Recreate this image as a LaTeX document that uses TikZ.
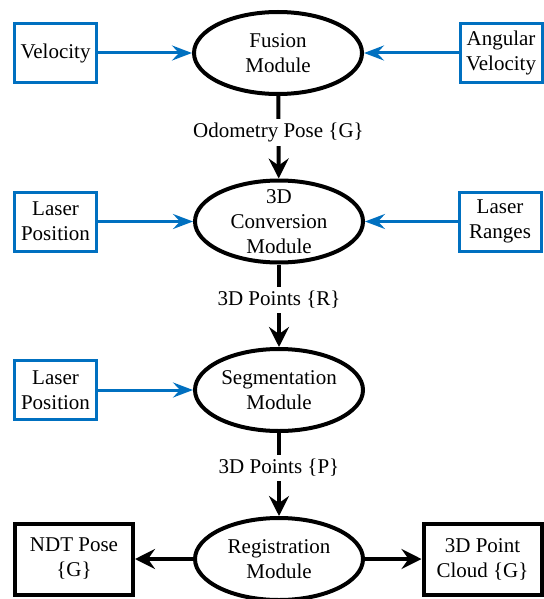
\documentclass[tikz,border=0pt]{standalone}
\usepackage{fontspec}
\setmainfont{Liberation Serif}
\newfontfamily\timesfont{Liberation Serif}
\usetikzlibrary{shapes.geometric, arrows.meta}
\definecolor{inputblue}{RGB}{0, 112, 192}

\begin{document}
\begin{tikzpicture}[x=0.5pt, y=-0.5pt,
    font=\fontsize{10.5}{12.5}\selectfont,
    module/.style={ellipse, draw, line width=2pt, minimum width=84pt, minimum height=41pt, inner sep=-6pt, align=center},
    inbox/.style={rectangle, draw=inputblue, line width=1.5pt, minimum width=41pt, minimum height=29.5pt, inner sep=1pt, align=center},
    outbox/.style={rectangle, draw, line width=2pt, minimum width=59pt, minimum height=35.5pt, inner sep=1pt, align=center},
    inarrow/.style={draw=inputblue, line width=1.5pt, -{Stealth[length=10pt, width=7.5pt, inset=3.5pt]}},
    flow/.style={draw, line width=2pt, -{Stealth[length=10pt, width=10pt, inset=3.5pt]}},
    flowlabel/.style={fill=white, inner sep=2pt}]
    \useasboundingbox (0,0) rectangle (543,599);

    % Modules
    \node[module] (fusion) at (278, 53) {Fusion\\Module};
    \node[module] (conv) at (279, 221.5) {3D\\Conversion\\Module};
    \node[module] (seg) at (279, 390) {\timesfont\fontsize{10.5}{12.5}\selectfont Segmentation\\Module};
    \node[module] (reg) at (279, 559) {Registration\\Module};

    % Sensor inputs
    \node[inbox] (vel) at (55.5, 53) {Velocity};
    \node[inbox] (angvel) at (501, 53) {Angular\\Velocity};
    \node[inbox] (laserpos) at (55.5, 221.5) {Laser\\Position};
    \node[inbox] (ranges) at (500, 221.5) {Laser\\Ranges};
    \node[inbox] (laserpostwo) at (55.5, 390) {Laser\\Position};

    % Outputs
    \node[outbox] (ndt) at (74, 559) {NDT Pose\\\{G\}};
    \node[outbox] (cloud) at (482.5, 559) {3D Point\\Cloud \{G\}};

    % Input arrows
    \draw[inarrow] (vel) -- (fusion);
    \draw[inarrow] (angvel) -- (fusion);
    \draw[inarrow] (laserpos) -- (conv);
    \draw[inarrow] (ranges) -- (conv);
    \draw[inarrow] (laserpostwo) -- (seg);

    % Main flow
    \draw[flow] (fusion) -- node[flowlabel, pos=0.44] {Odometry Pose \{G\}} (conv);
    \draw[flow] (conv) -- node[flowlabel, pos=0.43] {3D Points \{R\}} (seg);
    \draw[flow] (seg) -- node[flowlabel, pos=0.42] {3D Points \{P\}} (reg);
    \draw[flow] (reg) -- (ndt);
    \draw[flow] (reg) -- (cloud);

\end{tikzpicture}
\end{document}
